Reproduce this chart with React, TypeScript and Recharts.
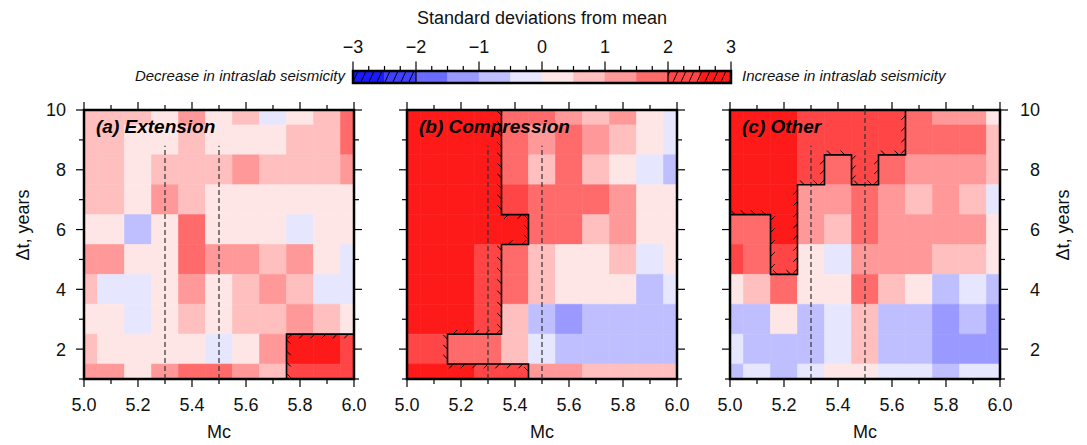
import React from 'react';
import { ComposedChart, XAxis, YAxis, ReferenceArea, ReferenceLine, Line, Scatter } from 'recharts';

const FONT = '"Liberation Sans", Arial, Helvetica, sans-serif';

// ---- grid (cell centres) ----
const MC_CENTERS = [5.0, 5.1, 5.2, 5.3, 5.4, 5.5, 5.6, 5.7, 5.8, 5.9, 6.0];
const DT_CENTERS = [10, 9, 8, 7, 6, 5, 4, 3, 2, 1]; // top row first
const MC_TICKS = [5.0, 5.1, 5.2, 5.3, 5.4, 5.5, 5.6, 5.7, 5.8, 5.9, 6.0];
const MC_LABELED = [5.0, 5.2, 5.4, 5.6, 5.8, 6.0];
const DT_TICKS = [1, 2, 3, 4, 5, 6, 7, 8, 9, 10];
const DT_LABELED = [2, 4, 6, 8, 10];

// ---- standard deviations from mean, rows Δt = 10 ... 1, columns Mc = 5.0 ... 6.0 ----
const EXTENSION_Z = [
  [0.8, 0.8, 0.8, 0.3, 1.3, 0.3, 0.8, -0.3, 0.3, 0.8, 1.8],
  [0.8, 0.8, 0.3, 0.3, 0.8, 0.3, 0.3, 0.3, 0.8, 0.8, 1.8],
  [0.8, 0.8, 0.3, 0.8, 0.8, 0.8, 1.3, 0.8, 0.8, 0.8, 1.3],
  [0.8, 0.8, 0.3, 1.3, 0.8, 0.3, 0.3, 0.3, 0.3, 0.3, 0.3],
  [0.3, 0.3, -0.8, 0.3, 1.8, 0.3, 0.3, 0.3, -0.3, 0.3, 0.3],
  [1.3, 1.3, 0.3, 0.3, 1.8, 1.3, 1.3, 0.8, 1.3, 0.3, -0.3],
  [0.8, -0.3, -0.3, 0.3, 1.3, 0.3, 0.8, 1.3, 0.8, -0.3, -0.3],
  [0.3, 0.3, -0.3, 0.3, 0.8, 0.3, 0.8, 0.8, 1.3, 0.8, 0.3],
  [0.8, 0.3, 0.3, 0.3, 0.3, -0.3, 0.3, 1.3, 2.7, 2.7, 2.2],
  [1.3, 1.3, 0.3, 1.3, 1.8, 1.8, 1.3, 0.8, 2.2, 2.2, 2.2],
];
const COMPRESSION_Z = [
  [2.7, 2.7, 2.7, 2.7, 1.8, 1.8, 1.3, 0.8, 1.3, 0.3, -0.3],
  [2.7, 2.7, 2.7, 2.7, 1.8, 1.3, 1.8, 1.3, 0.8, 0.3, -0.3],
  [2.7, 2.7, 2.7, 2.7, 1.8, 0.8, 1.8, 0.8, 0.3, -0.3, -0.8],
  [2.7, 2.7, 2.7, 2.7, 2.1, 1.8, 1.8, 1.8, 1.3, 0.3, 0.3],
  [2.7, 2.7, 2.7, 2.7, 2.6, 1.8, 1.8, 0.8, 1.3, 0.3, 0.3],
  [2.7, 2.7, 2.7, 2.2, 1.8, 0.8, 0.3, 0.3, 0.8, -0.3, 0.3],
  [2.7, 2.7, 2.7, 2.2, 1.8, 0.8, 0.3, 0.3, 0.3, -0.8, -0.3],
  [2.7, 2.7, 2.7, 2.2, 0.8, -0.8, -1.3, -0.8, -0.8, -0.8, -0.8],
  [2.2, 2.2, 1.8, 1.8, 0.8, -0.3, -0.8, -0.8, -0.8, -0.8, -0.8],
  [2.7, 2.7, 2.7, 2.2, 2.2, 1.3, 1.3, 0.8, 0.8, 0.8, 0.8],
];
const OTHER_Z = [
  [2.7, 2.7, 2.7, 2.2, 2.2, 2.2, 2.2, 1.8, 1.3, 1.3, 0.3],
  [2.7, 2.7, 2.7, 2.2, 2.2, 2.2, 2.2, 1.8, 1.8, 1.8, 0.8],
  [2.7, 2.7, 2.7, 2.2, 1.8, 2.2, 1.8, 1.3, 1.3, 1.3, 0.8],
  [2.7, 2.7, 2.7, 1.3, 1.3, 1.8, 1.3, 0.8, 1.3, 0.8, -0.3],
  [1.8, 1.8, 2.7, 1.3, 0.8, 1.8, 1.3, 1.3, 1.3, 1.3, 0.3],
  [2.1, 1.8, 2.2, 0.3, -0.3, 1.3, 1.3, 1.3, 0.8, 0.8, 0.3],
  [0.3, 0.8, 1.8, 0.3, 0.3, 1.8, 0.8, 0.3, -0.8, -0.3, -0.8],
  [-0.8, -0.8, 0.3, -0.8, -0.3, 0.8, -0.8, -0.8, -1.3, -0.8, -1.3],
  [-0.3, -0.8, -0.8, -0.8, -0.3, 0.8, -0.8, -0.8, -1.3, -1.3, -1.3],
  [-0.8, -0.3, -0.8, -0.3, 0.3, 0.3, -0.3, -0.3, -0.8, -0.3, -0.3],
];

// ---- significance contours (Mc, Δt), region on the right-hand side of travel ----
const EXTENSION_CONTOUR = [[5.75, 1], [5.75, 2.5], [6.0, 2.5]];
const COMPRESSION_CONTOUR = [
  [5.35, 10], [5.35, 6.5], [5.45, 6.5], [5.45, 5.5], [5.35, 5.5], [5.35, 2.5],
  [5.15, 2.5], [5.15, 1.5], [5.45, 1.5], [5.45, 1],
];
const OTHER_CONTOUR = [
  [5.65, 10], [5.65, 8.5], [5.55, 8.5], [5.55, 7.5], [5.45, 7.5], [5.45, 8.5],
  [5.35, 8.5], [5.35, 7.5], [5.25, 7.5], [5.25, 4.5], [5.15, 4.5], [5.15, 6.5], [5.0, 6.5],
];

// ---- dashed reference magnitudes and their upper ends ----
const DASH_MC = [5.3, 5.5];
const EXTENSION_DASH_TOP = [8.8, 8.8];
const COMPRESSION_DASH_TOP = [8.8, 8.8];
const OTHER_DASH_TOP = [8.8, 10];

// ---- colour scale ----
const CB_EDGES = [-3, -2.5, -2, -1.5, -1, -0.5, 0, 0.5, 1, 1.5, 2, 2.5, 3];
const CB_COLORS = ['#1a1aff', '#4040ff', '#6b6bff', '#9999ff', '#bfbfff', '#e6e6ff',
  '#ffe6e6', '#ffbfbf', '#ff9999', '#ff6b6b', '#ff4545', '#ff1a1a'];
const CB_TICKS = [-3, -2.75, -2.5, -2.25, -2, -1.75, -1.5, -1.25, -1, -0.75, -0.5, -0.25, 0,
  0.25, 0.5, 0.75, 1, 1.25, 1.5, 1.75, 2, 2.25, 2.5, 2.75, 3];
const CB_HATCHED = [[-3, -2], [2, 3]];

// ---- layout ----
const X_MIN = 5.0, X_MAX = 6.0, Y_MIN = 1, Y_MAX = 10;
const PLOT_W = 270, PLOT_H = 269, PLOT_TOP = 110;
const AXIS_W = 80;
const PAGE_H = 445;

function colorFor(v: number): string {
  for (let i = 0; i < CB_COLORS.length; i++) {
    if (v < CB_EDGES[i + 1]) return CB_COLORS[i];
  }
  return CB_COLORS[CB_COLORS.length - 1];
}

function makeHachures(contour: number[][], angleDeg: number) {
  const sx = PLOT_W / (X_MAX - X_MIN);
  const sy = PLOT_H / (Y_MAX - Y_MIN);
  const spacing = 11, len = 6;
  const a = (angleDeg * Math.PI) / 180;
  const pts: { x: number; y: number; dx: number; dy: number }[] = [];
  for (let i = 0; i < contour.length - 1; i++) {
    const [x0, y0] = contour[i];
    const [x1, y1] = contour[i + 1];
    const dxp = (x1 - x0) * sx;
    const dyp = -(y1 - y0) * sy;
    const L = Math.hypot(dxp, dyp);
    const nx = -dyp / L, ny = dxp / L;
    const tx = nx * Math.cos(a) - ny * Math.sin(a);
    const ty = nx * Math.sin(a) + ny * Math.cos(a);
    const n = Math.max(1, Math.round(L / spacing));
    for (let k = 0; k < n; k++) {
      const t = (k + 0.5) / n;
      pts.push({ x: x0 + t * (x1 - x0), y: y0 + t * (y1 - y0), dx: tx * len, dy: ty * len });
    }
  }
  return pts;
}

const HachureShape = (props: any) => {
  const { cx, cy } = props;
  const p = props.payload || props;
  if (cx == null || cy == null) return <g />;
  return <line x1={cx} y1={cy} x2={cx + p.dx} y2={cy + p.dy} stroke="#000" strokeWidth={1} />;
};
const EmptyShape = () => <g />;

const isIn = (v: number, arr: number[]) => arr.some((a) => Math.abs(a - v) < 1e-6);

const makeBottomTick = () => (props: any) => {
  const { x, y, payload } = props;
  const v = payload.value;
  const major = isIn(v, MC_LABELED);
  return (
    <g>
      <line x1={x} x2={x} y1={y} y2={y + (major ? 8 : 5)} stroke="#000" strokeWidth={1.2} />
      {major && (
        <text x={x} y={y + 32} textAnchor="middle" fontSize={18} fontFamily={FONT} fill="#111">
          {v.toFixed(1)}
        </text>
      )}
    </g>
  );
};
const makeTopTick = () => (props: any) => {
  const { x, y, payload } = props;
  const major = isIn(payload.value, MC_LABELED);
  return <line x1={x} x2={x} y1={y} y2={y - (major ? 8 : 5)} stroke="#000" strokeWidth={1.2} />;
};
const makeLeftTick = (labels: boolean) => (props: any) => {
  const { x, y, payload } = props;
  const major = isIn(payload.value, DT_LABELED);
  return (
    <g>
      <line x1={x} x2={x - (major ? 8 : 5)} y1={y} y2={y} stroke="#000" strokeWidth={1.2} />
      {labels && major && (
        <text x={x - 18} y={y} dy="0.36em" textAnchor="end" fontSize={18} fontFamily={FONT} fill="#111">
          {payload.value}
        </text>
      )}
    </g>
  );
};
const makeRightTick = (labels: boolean) => (props: any) => {
  const { x, y, payload } = props;
  const major = isIn(payload.value, DT_LABELED);
  return (
    <g>
      <line x1={x} x2={x + (major ? 8 : 5)} y1={y} y2={y} stroke="#000" strokeWidth={1.2} />
      {labels && major && (
        <text x={x + 40} y={y} dy="0.36em" textAnchor="end" fontSize={18} fontFamily={FONT} fill="#111">
          {payload.value}
        </text>
      )}
    </g>
  );
};

type PanelProps = {
  plotLeft: number;
  z: number[][];
  contour: number[][];
  hatchAngle: number;
  dashTops: number[];
  leftLabels: boolean;
  rightLabels: boolean;
};

function Panel({ plotLeft, z, contour, hatchAngle, dashTops, leftLabels, rightLabels }: PanelProps) {
  const hatch = makeHachures(contour, hatchAngle);
  const contourPts = contour.map(([x, y]) => ({ x, y }));
  const dMc = MC_CENTERS[1] - MC_CENTERS[0];
  const dDt = Math.abs(DT_CENTERS[0] - DT_CENTERS[1]);
  const cells: any[] = [];
  DT_CENTERS.forEach((dt, r) => {
    MC_CENTERS.forEach((mc, c) => {
      const col = colorFor(z[r][c]);
      cells.push(
        <ReferenceArea
          key={`c${r}-${c}`}
          x1={Math.max(X_MIN, mc - dMc / 2)}
          x2={Math.min(X_MAX, mc + dMc / 2)}
          y1={Math.max(Y_MIN, dt - dDt / 2)}
          y2={Math.min(Y_MAX, dt + dDt / 2)}
          fill={col}
          fillOpacity={1}
          stroke={col}
          strokeWidth={0.6}
          ifOverflow="visible"
        />
      );
    });
  });
  return (
    <div style={{ position: 'absolute', left: plotLeft - AXIS_W, top: 0 }}>
      <ComposedChart
        width={PLOT_W + 2 * AXIS_W}
        height={PAGE_H}
        margin={{ top: PLOT_TOP - 10, right: 0, bottom: PAGE_H - (PLOT_TOP + PLOT_H) - 60, left: 0 }}
      >
        <XAxis xAxisId={0} dataKey="x" type="number" domain={[X_MIN, X_MAX]} ticks={MC_TICKS}
          orientation="bottom" height={60} interval={0} tickSize={0} tickMargin={0}
          axisLine={false} tickLine={false} tick={makeBottomTick()} allowDataOverflow />
        <XAxis xAxisId="top" dataKey="x" type="number" domain={[X_MIN, X_MAX]} ticks={MC_TICKS}
          orientation="top" height={10} interval={0} tickSize={0} tickMargin={0}
          axisLine={false} tickLine={false} tick={makeTopTick()} allowDataOverflow />
        <YAxis yAxisId={0} dataKey="y" type="number" domain={[Y_MIN, Y_MAX]} ticks={DT_TICKS}
          orientation="left" width={AXIS_W} interval={0} tickSize={0} tickMargin={0}
          axisLine={false} tickLine={false} tick={makeLeftTick(leftLabels)} allowDataOverflow />
        <YAxis yAxisId="right" dataKey="y" type="number" domain={[Y_MIN, Y_MAX]} ticks={DT_TICKS}
          orientation="right" width={AXIS_W} interval={0} tickSize={0} tickMargin={0}
          axisLine={false} tickLine={false} tick={makeRightTick(rightLabels)} allowDataOverflow />
        {cells}
        {DASH_MC.map((mc, i) => (
          <ReferenceLine key={`d${i}`} segment={[{ x: mc, y: Y_MIN }, { x: mc, y: dashTops[i] }]}
            stroke="#333" strokeWidth={1.2} strokeDasharray="5 3" ifOverflow="visible" />
        ))}
        <Line data={contourPts} dataKey="y" type="linear" stroke="#000" strokeWidth={1.6}
          dot={false} activeDot={false} isAnimationActive={false} />
        <Scatter data={hatch} dataKey="y" shape={HachureShape} isAnimationActive={false} />
        <ReferenceArea x1={X_MIN} x2={X_MAX} y1={Y_MIN} y2={Y_MAX} fill="none" stroke="#000"
          strokeWidth={2.5} ifOverflow="visible" />
      </ComposedChart>
    </div>
  );
}

const CbTick = (props: any) => {
  const { x, y, payload } = props;
  const v = payload.value;
  const major = Math.abs(v - Math.round(v)) < 1e-6;
  const label = v < 0 ? '\u2212' + Math.abs(v) : String(v);
  return (
    <g>
      <line x1={x} x2={x} y1={y} y2={y - (major ? 9.5 : 5)} stroke="#000" strokeWidth={1.2} />
      {major && (
        <text x={x} y={y - 18} textAnchor="middle" fontSize={18} fontFamily={FONT} fill="#111">
          {label}
        </text>
      )}
    </g>
  );
};

function ColorBar() {
  const CB_LEFT = 353, CB_RIGHT = 731, CB_TOP = 71, CB_BOTTOM = 83, H = 100;
  const binCenters = CB_COLORS.map((_, i) => ({ x: (CB_EDGES[i] + CB_EDGES[i + 1]) / 2, y: 0.5 }));
  return (
    <div style={{ position: 'absolute', left: 0, top: 0 }}>
      <ComposedChart width={1087} height={H}
        margin={{ top: CB_TOP - 40, right: 1087 - CB_RIGHT, bottom: H - CB_BOTTOM, left: CB_LEFT }}>
        <XAxis xAxisId="cb" dataKey="x" type="number" domain={[-3, 3]} ticks={CB_TICKS} orientation="top"
          height={40} interval={0} tickSize={0} tickMargin={0} axisLine={false} tickLine={false}
          tick={(p: any) => <CbTick {...p} />} allowDataOverflow />
        <YAxis yAxisId="cb" dataKey="y" type="number" domain={[0, 1]} hide />
        {CB_COLORS.map((c, i) => (
          <ReferenceArea key={`b${i}`} xAxisId="cb" yAxisId="cb" x1={CB_EDGES[i]} x2={CB_EDGES[i + 1]}
            y1={0} y2={1} fill={c} fillOpacity={1} stroke={c} strokeWidth={0.5} ifOverflow="visible" />
        ))}
        {CB_HATCHED.map(([a, b], i) => (
          <ReferenceArea key={`h${i}`} xAxisId="cb" yAxisId="cb" x1={a} x2={b} y1={0} y2={1}
            fill="url(#cbHatch)" fillOpacity={1} ifOverflow="visible" />
        ))}
        {[-2, 2].map((v) => (
          <ReferenceLine key={`s${v}`} xAxisId="cb" yAxisId="cb" x={v} stroke="#000" strokeWidth={1.2}
            ifOverflow="visible" />
        ))}
        <ReferenceArea xAxisId="cb" yAxisId="cb" x1={-3} x2={3} y1={0} y2={1} fill="none" stroke="#000"
          strokeWidth={2.5} ifOverflow="visible" />
        <Scatter xAxisId="cb" yAxisId="cb" data={binCenters} dataKey="y" shape={EmptyShape}
          isAnimationActive={false} />
      </ComposedChart>
    </div>
  );
}

const PANEL_LEFTS = [84, 407, 730];
const PANEL_TITLES = ['(a) Extension', '(b) Compression', '(c) Other'];

export default function App() {
  return (
    <div style={{ position: 'absolute', left: 0, top: 0, width: 1087, height: PAGE_H, background: '#fff', fontFamily: FONT }}>
      <svg width={0} height={0} style={{ position: 'absolute' }}>
        <defs>
          <pattern id="cbHatch" patternUnits="userSpaceOnUse" x={0} y={71} width={8} height={12}>
            <line x1={0.5} y1={12} x2={6} y2={0} stroke="#000" strokeWidth={1} />
          </pattern>
        </defs>
      </svg>
      <ColorBar />
      <Panel plotLeft={PANEL_LEFTS[0]} z={EXTENSION_Z} contour={EXTENSION_CONTOUR} hatchAngle={45}
        dashTops={EXTENSION_DASH_TOP} leftLabels rightLabels={false} />
      <Panel plotLeft={PANEL_LEFTS[1]} z={COMPRESSION_Z} contour={COMPRESSION_CONTOUR} hatchAngle={45}
        dashTops={COMPRESSION_DASH_TOP} leftLabels={false} rightLabels={false} />
      <Panel plotLeft={PANEL_LEFTS[2]} z={OTHER_Z} contour={OTHER_CONTOUR} hatchAngle={-45}
        dashTops={OTHER_DASH_TOP} leftLabels={false} rightLabels />
      <svg width={1087} height={PAGE_H} style={{ position: 'absolute', left: 0, top: 0, pointerEvents: 'none' }}>
        <text x={542} y={24} textAnchor="middle" fontSize={18} fontFamily={FONT} fill="#111">
          Standard deviations from mean
        </text>
        <text x={345} y={81} textAnchor="end" fontSize={15} fontStyle="italic" fontFamily={FONT} fill="#111">
          Decrease in intraslab seismicity
        </text>
        <text x={742} y={81} fontSize={15} fontStyle="italic" fontFamily={FONT} fill="#111">
          Increase in intraslab seismicity
        </text>
        {PANEL_LEFTS.map((l, i) => (
          <g key={`t${i}`}>
            <text x={l + 12} y={133} fontSize={19} fontWeight="bold" fontStyle="italic" fontFamily={FONT} fill="#000">
              {PANEL_TITLES[i]}
            </text>
            <text x={l + PLOT_W / 2} y={438} textAnchor="middle" fontSize={18} fontFamily={FONT} fill="#111">
              Mc
            </text>
          </g>
        ))}
        <text x={23} y={225} textAnchor="middle" dominantBaseline="central" fontSize={18} fontFamily={FONT}
          fill="#111" transform="rotate(-90 23 225)">
          Δt, years
        </text>
        <text x={1063} y={225} textAnchor="middle" dominantBaseline="central" fontSize={18} fontFamily={FONT}
          fill="#111" transform="rotate(-90 1063 225)">
          Δt, years
        </text>
      </svg>
    </div>
  );
}
